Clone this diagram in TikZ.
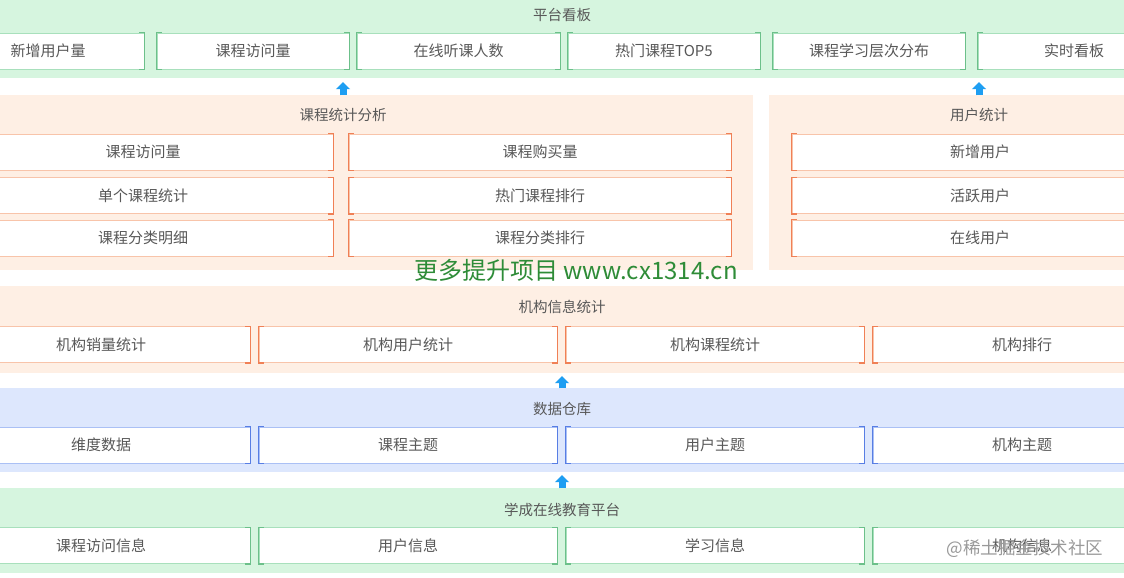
\documentclass[tikz,border=0pt]{standalone}
\usepackage{fontspec}
\setmainfont{Noto Sans CJK SC}
\usetikzlibrary{arrows.meta, positioning}
\definecolor{bandgreen}{RGB}{214,245,223}
\definecolor{linegreen}{RGB}{168,224,188}
\definecolor{cornergreen}{RGB}{108,192,138}
\definecolor{bandorange}{RGB}{254,239,228}
\definecolor{lineorange}{RGB}{248,196,170}
\definecolor{cornerorange}{RGB}{240,128,86}
\definecolor{bandblue}{RGB}{221,231,253}
\definecolor{lineblue}{RGB}{170,192,245}
\definecolor{cornerblue}{RGB}{88,126,228}
\definecolor{arrowblue}{RGB}{30,158,242}
\definecolor{textgray}{RGB}{88,88,88}
\definecolor{markgreen}{RGB}{46,140,56}

\begin{document}
\begin{tikzpicture}[
    x=1pt, y=-1pt,
    band/.style={rectangle, fill=#1, inner sep=0pt},
    title/.style={font=\fontsize{14.5}{16}\selectfont, text=textgray},
    cell/.style={rectangle, fill=white, draw=#1, line width=0.8pt, inner sep=0pt,
                 minimum height=36pt, minimum width=192pt,
                 font=\fontsize{15}{17}\selectfont, text=textgray},
    up/.style={-{Triangle[width=14pt, length=7pt]}, line width=7pt, draw=arrowblue},
    corner/.style={line width=1.2pt, draw=#1},
]
    \clip (0,0) rectangle (1124,578);
    \fill[white] (0,0) rectangle (1124,578);

    % Platform board (top)
    \node[band=bandgreen, minimum width=1144pt, minimum height=78pt] (board) at (562,39) {};
    \node[title] (boardT) at (562,15) {平台看板};
    \node[cell=linegreen] (b1) at (48,51) {新增用户量};
    \node[cell=linegreen] (b2) at (253,51) {课程访问量};
    \node[cell=linegreen, minimum width=203pt] (b3) at (458.5,51) {在线听课人数};
    \node[cell=linegreen] (b4) at (664,51) {热门课程TOP5};
    \node[cell=linegreen] (b5) at (869,51) {课程学习层次分布};
    \node[cell=linegreen] (b6) at (1074,51) {实时看板};

    % Course statistics (left panel)
    \node[band=bandorange, minimum width=820pt, minimum height=175pt] (stat) at (343,182.5) {};
    \node[title] (statT) at (343,115) {课程统计分析};
    \node[cell=lineorange, minimum width=380pt] (s1) at (143,152) {课程访问量};
    \node[cell=lineorange, minimum width=380pt] (s2) at (143,195.5) {单个课程统计};
    \node[cell=lineorange, minimum width=380pt] (s3) at (143,238) {课程分类明细};
    \node[cell=lineorange, minimum width=382pt] (s4) at (540,152) {课程购买量};
    \node[cell=lineorange, minimum width=382pt] (s5) at (540,195.5) {热门课程排行};
    \node[cell=lineorange, minimum width=382pt] (s6) at (540,238) {课程分类排行};

    % User statistics (right panel)
    \node[band=bandorange, minimum width=420pt, minimum height=175pt] (user) at (979,182.5) {};
    \node[title] (userT) at (979,115) {用户统计};
    \node[cell=lineorange, minimum width=376pt] (u1) at (980,152) {新增用户};
    \node[cell=lineorange, minimum width=376pt] (u2) at (980,195.5) {活跃用户};
    \node[cell=lineorange, minimum width=376pt] (u3) at (980,238) {在线用户};

    % Organisation statistics
    \node[band=bandorange, minimum width=1144pt, minimum height=87pt] (org) at (562,329.5) {};
    \node[title] (orgT) at (562,307) {机构信息统计};
    \node[cell=lineorange, minimum width=298pt] (o1) at (101,344.5) {机构销量统计};
    \node[cell=lineorange, minimum width=298pt] (o2) at (408,344.5) {机构用户统计};
    \node[cell=lineorange, minimum width=298pt] (o3) at (715,344.5) {机构课程统计};
    \node[cell=lineorange, minimum width=298pt] (o4) at (1022,344.5) {机构排行};

    % Data warehouse
    \node[band=bandblue, minimum width=1144pt, minimum height=84pt] (dw) at (562,430) {};
    \node[title] (dwT) at (562,409) {数据仓库};
    \node[cell=lineblue, minimum width=298pt] (d1) at (101,445) {维度数据};
    \node[cell=lineblue, minimum width=298pt] (d2) at (408,445) {课程主题};
    \node[cell=lineblue, minimum width=298pt] (d3) at (715,445) {用户主题};
    \node[cell=lineblue, minimum width=298pt] (d4) at (1022,445) {机构主题};

    % Source platform (bottom)
    \node[band=bandgreen, minimum width=1144pt, minimum height=85pt] (src) at (562,530.5) {};
    \node[title] (srcT) at (562,510) {学成在线教育平台};
    \node[cell=linegreen, minimum width=298pt] (p1) at (101,545.5) {课程访问信息};
    \node[cell=linegreen, minimum width=298pt] (p2) at (408,545.5) {用户信息};
    \node[cell=linegreen, minimum width=298pt] (p3) at (715,545.5) {学习信息};
    \node[cell=linegreen, minimum width=298pt] (p4) at (1022,545.5) {机构信息};

    % corner brackets
    \foreach \n/\c in {b1/cornergreen, b2/cornergreen, b3/cornergreen, b4/cornergreen, b5/cornergreen, b6/cornergreen,
                       p1/cornergreen, p2/cornergreen, p3/cornergreen, p4/cornergreen,
                       s1/cornerorange, s2/cornerorange, s3/cornerorange, s4/cornerorange, s5/cornerorange, s6/cornerorange,
                       u1/cornerorange, u2/cornerorange, u3/cornerorange,
                       o1/cornerorange, o2/cornerorange, o3/cornerorange, o4/cornerorange,
                       d1/cornerblue, d2/cornerblue, d3/cornerblue, d4/cornerblue} {
        \draw[corner=\c] ([xshift=5pt]\n.north west) -- (\n.north west) -- (\n.south west) -- ([xshift=5pt]\n.south west);
        \draw[corner=\c] ([xshift=-5pt]\n.north east) -- (\n.north east) -- (\n.south east) -- ([xshift=-5pt]\n.south east);
    }

    % flow arrows
    \draw[up] ([yshift=-0.5pt]stat.north) -- ([yshift=-4pt]stat.north |- board.south);
    \draw[up] ([yshift=-0.5pt]user.north) -- ([yshift=-4pt]user.north |- board.south);
    \draw[up] ([yshift=-0.5pt]dw.north) -- ([yshift=-3pt]org.south);
    \draw[up] ([yshift=-0.5pt]src.north) -- ([yshift=-3pt]dw.south);

    % marks
    \node[font=\fontsize{24}{26}\selectfont, text=markgreen] (mark) at (576,270) {更多提升项目 www.cx1314.cn};
    \node[font=\fontsize{17.5}{19}\selectfont, text=black!40] (credit) at (1025,549) {@稀土掘金技术社区};
\end{tikzpicture}
\end{document}
